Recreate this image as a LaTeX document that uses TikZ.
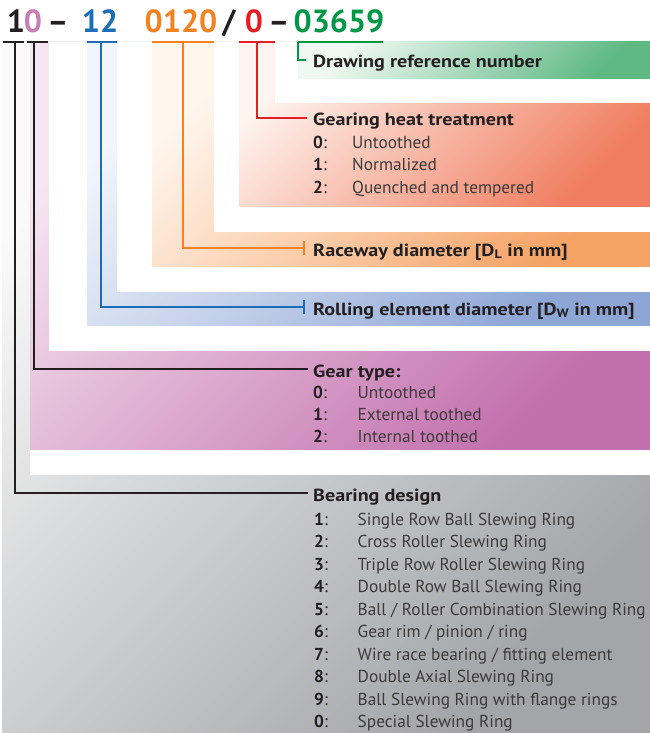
\documentclass[tikz,border=0pt]{standalone}
\usepackage{fontspec}
\setmainfont{PT Sans}
\newfontfamily\hdrfont{PT Sans}[FakeStretch=1.15]
\definecolor{txt}{HTML}{231F20}
\definecolor{cpink}{HTML}{C77DB6}
\definecolor{cblue}{HTML}{1B6DB7}
\definecolor{corange}{HTML}{F58220}
\definecolor{cred}{HTML}{E31E24}
\definecolor{cgreen}{HTML}{009846}
\definecolor{gyA}{HTML}{FAFAFA}\definecolor{gyB}{HTML}{A3A5A8}
\definecolor{pkA}{HTML}{F6E6F1}\definecolor{pkB}{HTML}{C270AD}
\definecolor{blA}{HTML}{F2F5FB}\definecolor{blB}{HTML}{8EA6D6}
\definecolor{orA}{HTML}{FFF6EE}\definecolor{orB}{HTML}{F5A265}
\definecolor{rdA}{HTML}{FEF3EE}\definecolor{rdB}{HTML}{F07D5F}
\definecolor{grA}{HTML}{F0F8F3}\definecolor{grB}{HTML}{5FB985}
\begin{document}
\begin{tikzpicture}[x=1pt,y=-1pt,
  region/.style 2 args={top color=#1, bottom color=#2, shading angle=45},
  hdr/.style={anchor=west, inner sep=0pt, text height=20pt, text depth=4pt,
    font=\hdrfont\fontsize{17.5}{20}\selectfont\bfseries, text=txt},
  numtxt/.style={anchor=base west, inner sep=0pt, font=\fontsize{17.3}{20}\selectfont, text=txt},
  itemtxt/.style={anchor=base west, inner sep=0pt, font=\fontsize{17.3}{20}\selectfont, text=txt!88},
  dig/.style={anchor=base, inner sep=0pt, font=\fontsize{32}{36}\selectfont\bfseries},
  bar/.style={line width=2pt},
  conn/.style={line width=1.5pt},
  tick/.style={line width=1.5pt}
]
\useasboundingbox (0,0) rectangle (650,733);
% ---- background regions (layered)
\shade[region={gyA}{gyB}] (2,42) rectangle (650,733);
\fill[white] (30,42) rectangle (650,475);
\shade[region={pkA}{pkB}] (30,42) rectangle (650,449);
\fill[white] (49,42) rectangle (650,351);
\shade[region={blA}{blB}] (87,42) rectangle (650,325);
\fill[white] (117,42) rectangle (650,292);
\shade[region={orA}{orB}] (152,42) rectangle (650,266);
\fill[white] (214,42) rectangle (650,232);
\shade[region={rdA}{rdB}] (239,42) rectangle (650,206);
\fill[white] (275,42) rectangle (650,103);
\shade[region={grA}{grB}] (298,42) rectangle (650,79);
% ---- code digits
\node[dig, text=txt]     (d1) at (16,33)  {1};
\node[dig, text=cpink]   (d2) at (33,33)  {0};
\node[dig, text=txt]     (h1) at (58,33)  {--};
\node[dig, text=cblue]   (d3) at (100,33) {12};
\node[dig, text=corange] (d4) at (181,33) {0120};
\node[dig, text=txt]     (sl) at (229,33) {/};
\node[dig, text=cred]    (d5) at (254,33) {0};
\node[dig, text=txt]     (h2) at (279,33) {--};
\node[dig, text=cgreen]  (d6) at (339,33) {03659};
% ---- bar coordinates
\coordinate (b1l) at (3,42);   \coordinate (b1r) at (24,42);  \coordinate (b1) at (15,42);
\coordinate (b2l) at (27,42);  \coordinate (b2r) at (48,42);  \coordinate (b2) at (34,42);
\coordinate (b3l) at (87,42);  \coordinate (b3r) at (117,42); \coordinate (b3) at (101,42);
\coordinate (b4l) at (152,42); \coordinate (b4r) at (214,42); \coordinate (b4) at (183,42);
\coordinate (b5l) at (239,42); \coordinate (b5r) at (275,42); \coordinate (b5) at (257,42);
\coordinate (b6)  at (298,42); \coordinate (b6r) at (383,42);
% ---- headers
\node[hdr] (ldraw) at (313,60)  {Drawing reference number};
\node[hdr] (lheat) at (313,118) {Gearing heat treatment};
\node[hdr] (lrace) at (313,248) {Raceway diameter [D\textsubscript{L} in mm]};
\node[hdr] (lroll) at (313,307) {Rolling element diameter [D\textsubscript{W} in mm]};
\node[hdr] (lgear) at (313,369) {Gear type:};
\node[hdr] (lbear) at (313,493) {Bearing design};
% ---- lists
\foreach \n/\t/\y [count=\i] in {0/{Untoothed}/148, 1/{Normalized}/170.5, 2/{Quenched and tempered}/193}{
  \node[numtxt] (hn\i) at (313,\y) {\textbf{\n}:};
  \node[itemtxt] (ht\i) at (352,\y) {\t};
}
\foreach \n/\t/\y [count=\i] in {0/{Untoothed}/398.5, 1/{External toothed}/420, 2/{Internal toothed}/442}{
  \node[numtxt] (gn\i) at (313,\y) {\textbf{\n}:};
  \node[itemtxt] (gt\i) at (357.5,\y) {\t};
}
\foreach \n/\t/\y [count=\i] in {
  1/{Single Row Ball Slewing Ring}/525,
  2/{Cross Roller Slewing Ring}/547.5,
  3/{Triple Row Roller Slewing Ring}/570,
  4/{Double Row Ball Slewing Ring}/592.5,
  5/{Ball / Roller Combination Slewing Ring}/615,
  6/{Gear rim / pinion / ring}/637.5,
  7/{Wire race bearing / fitting element}/660,
  8/{Double Axial Slewing Ring}/682.5,
  9/{Ball Slewing Ring with flange rings}/705,
  0/{Special Slewing Ring}/727}{
  \node[numtxt] (bn\i) at (314,\y) {\textbf{\n}:};
  \node[itemtxt] (bt\i) at (357.5,\y) {\t};
}
% ---- bars
\draw[bar, txt] (b1l) -- (b1r);
\draw[bar, txt] (b2l) -- (b2r);
\draw[bar, cblue] (b3l) -- (b3r);
\draw[bar, corange] (b4l) -- (b4r);
\draw[bar, cred] (b5l) -- (b5r);
\draw[bar, cgreen] (b6) -- (b6r);
% ---- connectors
\draw[conn, txt] (b1) |- ([xshift=-5pt]lbear.west);
\draw[conn, txt] (b2) |- ([xshift=-5pt]lgear.west);
\draw[conn, cblue] (b3) |- ([xshift=-9pt]lroll.west) coordinate (e3);
\draw[tick, cblue] ([yshift=-7pt]e3) -- ([yshift=7pt]e3);
\draw[conn, corange] (b4) |- ([xshift=-9pt]lrace.west) coordinate (e4);
\draw[tick, corange] ([yshift=-7pt]e4) -- ([yshift=7pt]e4);
\draw[conn, cred] (b5) |- ([xshift=-6pt]lheat.west);
\draw[conn, cgreen] (b6) |- ([xshift=-7pt]ldraw.west);
\end{tikzpicture}
\end{document}
